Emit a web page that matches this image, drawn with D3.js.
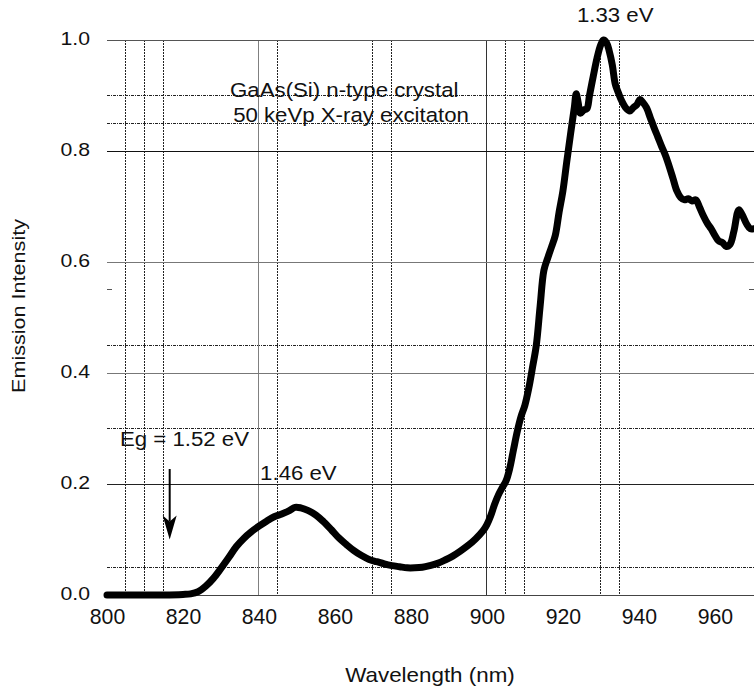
<!DOCTYPE html>
<html>
<head>
<meta charset="utf-8">
<script src="https://cdn.jsdelivr.net/npm/d3@7"></script>
<style>
  html, body { margin: 0; padding: 0; background: #fff; }
  svg { display: block; }
  text { font-family: Arial, "Liberation Sans", Helvetica, sans-serif; fill: #111; }
</style>
</head>
<body>
<svg id="chart" width="754" height="694"></svg>
<script>
// ---------------- data ----------------
const wavelength = [800, 805, 810, 815, 820, 822, 824, 826, 828, 830, 832, 834, 836, 838, 840, 842, 844, 846, 848, 849.5,
  851, 853, 855, 857, 859, 861, 863, 865, 867, 869, 871, 873, 875, 877, 879, 881, 883, 885, 887, 889,
  891, 893, 895, 897, 899, 900, 901, 902, 903, 904, 905, 906, 907, 908, 909, 910, 911, 912, 913, 914,
  915, 916, 917, 918, 919, 920, 921, 922, 923, 923.5, 924, 924.6, 925.5, 926.3, 927, 928, 929, 930, 930.7, 931.5,
  932.2, 933, 933.8, 934.6, 935.5, 936.5, 937.6, 938.5, 939.5, 940.3, 941, 942, 943, 944, 945, 946, 947, 948, 949, 950,
  951, 952, 953, 954, 955, 956, 957, 958, 959, 960, 961, 962, 963, 964, 965, 966.3, 967.2, 968.4, 969.3, 970.3];
const intensity = [0, 0, 0, 0, 0.001, 0.002, 0.006, 0.016, 0.03, 0.048, 0.067, 0.087, 0.102, 0.114, 0.124, 0.133, 0.141, 0.146, 0.152, 0.158,
  0.157, 0.152, 0.144, 0.132, 0.118, 0.103, 0.091, 0.08, 0.071, 0.064, 0.06, 0.056, 0.053, 0.051, 0.049, 0.049, 0.05, 0.053, 0.057, 0.063,
  0.07, 0.079, 0.089, 0.101, 0.116, 0.127, 0.143, 0.163, 0.18, 0.193, 0.205, 0.228, 0.262, 0.295, 0.322, 0.342, 0.372, 0.41, 0.45, 0.52,
  0.585, 0.607, 0.627, 0.648, 0.69, 0.728, 0.78, 0.83, 0.878, 0.903, 0.888, 0.868, 0.874, 0.876, 0.9, 0.935, 0.968, 0.992, 1.0, 0.995,
  0.98, 0.955, 0.92, 0.905, 0.89, 0.878, 0.872, 0.878, 0.884, 0.893, 0.888, 0.878, 0.86, 0.842, 0.825, 0.808, 0.792, 0.772, 0.75, 0.728,
  0.716, 0.712, 0.714, 0.71, 0.712, 0.698, 0.683, 0.67, 0.66, 0.648, 0.638, 0.635, 0.628, 0.632, 0.655, 0.694, 0.685, 0.668, 0.66, 0.66];

const xTicks = [800, 820, 840, 860, 880, 900, 920, 940, 960];
const yTicks = [0.0, 0.2, 0.4, 0.6, 0.8, 1.0];
const solidV = [840, 900];
const dottedV = [805, 810, 815, 845, 870, 875, 905, 910, 930, 935];
const solidH = [0.2, 0.4, 0.6, 0.8, 1.0];
const dottedH = [0.05, 0.3, 0.45, 0.85, 0.9];
const minorY = [0.55];

const annotations = [
  { text: "GaAs(Si) n-type crystal", x: 832.4, y: 0.897 },
  { text: "50 keVp X-ray excitaton", x: 833.2, y: 0.852 },
  { text: "Eg = 1.52 eV", x: 803.4, y: 0.268 },
  { text: "1.46 eV", x: 840.3, y: 0.207 },
  { text: "1.33 eV", x: 923.7, y: 1.0324 }
];
const arrow = { x: 816.5, yFrom: 0.227, yTo: 0.1 };

// ---------------- layout ----------------
const SX = 1.18;       // horizontal stretch of the original lettering
const FS = 18;
const svg = d3.select("#chart");
const x = d3.scaleLinear().domain([800, 970.3]).range([107, 754]);
const y = d3.scaleLinear().domain([0, 1]).range([595, 40]);

const solidHColor = { 0.2: "#222", 0.4: "#777", 0.6: "#777", 0.8: "#111", 1.0: "#555" };
const solidVColor = { 840: "#808080", 900: "#333" };

// dotted grid
svg.append("g").selectAll("line").data(dottedV).join("line")
  .attr("x1", d => x(d)).attr("x2", d => x(d))
  .attr("y1", y(1)).attr("y2", y(0))
  .attr("stroke", "#222").attr("stroke-width", 1).attr("stroke-dasharray", "2,1")
  .attr("shape-rendering", "crispEdges");
svg.append("g").selectAll("line").data(dottedH).join("line")
  .attr("x1", x(800)).attr("x2", 754)
  .attr("y1", d => y(d)).attr("y2", d => y(d))
  .attr("stroke", "#222").attr("stroke-width", 1).attr("stroke-dasharray", "3,1,1,1")
  .attr("shape-rendering", "crispEdges");

// solid grid
svg.append("g").selectAll("line").data(solidV).join("line")
  .attr("x1", d => x(d)).attr("x2", d => x(d))
  .attr("y1", y(1)).attr("y2", y(0))
  .attr("stroke", d => solidVColor[d]).attr("stroke-width", 1)
  .attr("shape-rendering", "crispEdges");
svg.append("g").selectAll("line").data(solidH).join("line")
  .attr("x1", x(800)).attr("x2", 754)
  .attr("y1", d => y(d)).attr("y2", d => y(d))
  .attr("stroke", d => solidHColor[d]).attr("stroke-width", 1)
  .attr("shape-rendering", "crispEdges");

// minor ticks (left and right)
svg.append("g").selectAll("line").data(minorY).join("line")
  .attr("x1", x(800)).attr("x2", x(800) + 5)
  .attr("y1", d => y(d)).attr("y2", d => y(d))
  .attr("stroke", "#555").attr("shape-rendering", "crispEdges");
svg.append("g").selectAll("line").data(minorY).join("line")
  .attr("x1", 749).attr("x2", 754)
  .attr("y1", d => y(d)).attr("y2", d => y(d))
  .attr("stroke", "#555").attr("shape-rendering", "crispEdges");

// x axis
const gx = svg.append("g").attr("transform", `translate(0,${y(0)})`)
  .call(d3.axisBottom(x).tickValues(xTicks).tickFormat(d3.format("d")).tickSize(0));
gx.select(".domain").attr("stroke", "#444").attr("d", `M${x(800)},0.5H754`);
gx.selectAll("text")
  .attr("y", 0).attr("dy", 0)
  .attr("transform", `translate(0,29) scale(${SX},1.25)`)
  .style("font-size", FS + "px").style("font-family", "Arial, 'Liberation Sans', sans-serif").attr("fill", "#111");

// y axis
const gy = svg.append("g").attr("transform", `translate(${x(800)},0)`)
  .call(d3.axisLeft(y).tickValues(yTicks).tickFormat(d3.format(".1f")).tickSize(0));
gy.select(".domain").remove();
gy.selectAll("text")
  .attr("x", 0).attr("dy", 0)
  .attr("transform", `translate(-17,4) scale(${SX},1)`)
  .style("font-size", FS + "px").style("font-family", "Arial, 'Liberation Sans', sans-serif").attr("fill", "#111");

// axis titles
svg.append("text")
  .attr("transform", `translate(430,682) scale(1.12,1)`)
  .attr("text-anchor", "middle").style("font-size", "20px")
  .text("Wavelength (nm)");
svg.append("text")
  .attr("transform", `translate(25,306) rotate(-90) scale(1.2,1)`)
  .attr("text-anchor", "middle").style("font-size", "18px")
  .text("Emission Intensity");

// curve
const pts = wavelength.map((w, i) => [w, intensity[i]]);
const line = d3.line().x(d => x(d[0])).y(d => y(d[1])).curve(d3.curveCatmullRom.alpha(0.5));
svg.append("path").datum(pts)
  .attr("d", line)
  .attr("fill", "none").attr("stroke", "#000").attr("stroke-width", 7)
  .attr("stroke-linejoin", "round").attr("stroke-linecap", "round");

// annotations
svg.append("g").selectAll("text").data(annotations).join("text")
  .attr("transform", d => `translate(${x(d.x)},${y(d.y)}) scale(1.14,1)`)
  .style("font-size", "19.5px")
  .text(d => d.text);

// arrow
svg.append("line")
  .attr("x1", x(arrow.x)).attr("x2", x(arrow.x))
  .attr("y1", y(arrow.yFrom)).attr("y2", y(arrow.yTo) - 18)
  .attr("stroke", "#000").attr("stroke-width", 2);
svg.append("path")
  .attr("d", `M${x(arrow.x) - 7},${y(arrow.yTo) - 24} L${x(arrow.x)},${y(arrow.yTo)} L${x(arrow.x) + 7},${y(arrow.yTo) - 24} L${x(arrow.x)},${y(arrow.yTo) - 18} Z`)
  .attr("fill", "#000");
</script>
</body>
</html>
